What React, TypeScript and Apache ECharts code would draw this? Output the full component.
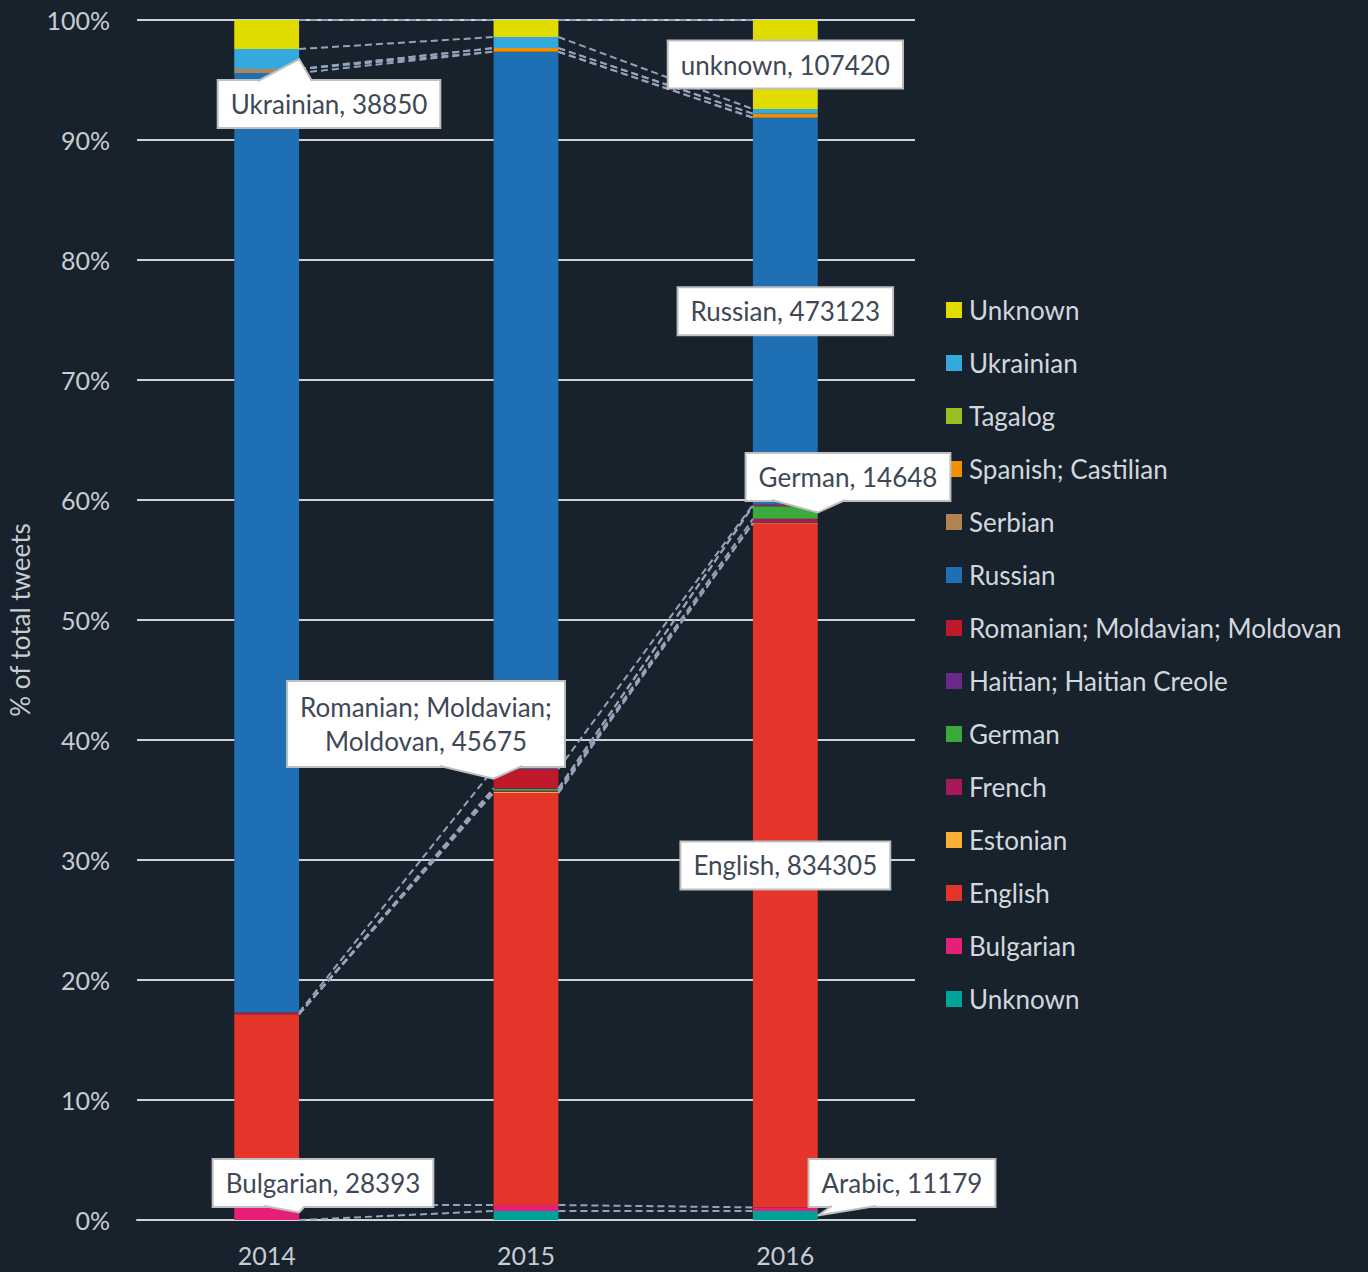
import React, { useEffect, useRef } from "react";
import * as echarts from "echarts";

const years = ["2014", "2015", "2016"];
const yTicks = [0, 10, 20, 30, 40, 50, 60, 70, 80, 90, 100];

// percentage of total tweets, stacked bottom -> top
const unknownBottom = [0, 0.75, 0.75];
const bulgarian = [1.25, 0.5, 0.3];
const english = [15.9, 34.33, 57.0];
const estonian = [0, 0.1, 0.05];
const french = [0, 0.1, 0.33];
const german = [0, 0.15, 1.05];
const haitian = [0, 0.05, 0.02];
const romanian = [0.15, 1.6, 0.1];
const russian = [78.28, 59.78, 32.26];
const serbian = [0.33, 0, 0];
const spanish = [0, 0.3, 0.33];
const tagalog = [0, 0, 0];
const ukrainian = [1.67, 0.92, 0.39];
const unknownTop = [2.42, 1.42, 7.42];

const seriesNames = [
  "Unknown (bottom)",
  "Bulgarian",
  "English",
  "Estonian",
  "French",
  "German",
  "Haitian; Haitian Creole",
  "Romanian; Moldavian; Moldovan",
  "Russian",
  "Serbian",
  "Spanish; Castilian",
  "Tagalog",
  "Ukrainian",
  "Unknown (top)",
];
const seriesValues = [
  unknownBottom, bulgarian, english, estonian, french, german, haitian,
  romanian, russian, serbian, spanish, tagalog, ukrainian, unknownTop,
];
const seriesColors = [
  "#00a39a", "#e61f78", "#e5352a", "#f9ae34", "#a8195a", "#3aaa3a", "#6a2a8a",
  "#c0192a", "#1f6fb5", "#b3844f", "#f28e00", "#96c11f", "#33a9de", "#e0dc00",
];

// callouts: series index, category index, text
const callouts = [
  { s: 12, c: 0, text: "Ukrainian, 38850", box: [329, 104], edge: "top", base: [258, 312], side: 1 },
  { s: 13, c: 2, text: "unknown, 107420", box: null, edge: null, base: null, side: 0 },
  { s: 8, c: 2, text: "Russian, 473123", box: null, edge: null, base: null, side: 0 },
  { s: 5, c: 2, text: "German, 14648", box: [848, 477], edge: "bottom", base: [772, 845], side: 1 },
  { s: 7, c: 1, text: "Romanian; Moldavian;\nMoldovan, 45675", box: [426, 724], edge: "bottom", base: [440, 522], side: -1 },
  { s: 2, c: 2, text: "English, 834305", box: null, edge: null, base: null, side: 0 },
  { s: 1, c: 0, text: "Bulgarian, 28393", box: [323, 1183], edge: "bottom", base: [264, 305], side: 1 },
  { s: 0, c: 2, text: "Arabic, 11179", box: [902, 1183], edge: "bottom", base: [832, 876], side: 1 },
];

const FONT = "Lato, 'Noto Sans', sans-serif";
const BAR_RATIO = 0.25;

function cumAt(k: number, c: number) {
  let t = 0;
  for (let i = 0; i <= k; i++) t += seriesValues[i][c];
  return t;
}

export default function App() {
  const ref = useRef<HTMLDivElement>(null);
  useEffect(() => {
    document.body.style.margin = "0";
    document.body.style.background = "#17222c";
    const chart = echarts.init(ref.current!, null, { renderer: "svg" });

    const barSeries: any[] = seriesNames.map((n, i) => ({
      name: n,
      type: "bar",
      stack: "total",
      barWidth: BAR_RATIO * 100 + "%",
      data: seriesValues[i],
      itemStyle: { color: seriesColors[i] },
      silent: true,
    }));

    const lineSeries = {
      type: "custom",
      name: "seriesLines",
      silent: true,
      z: 3,
      data: [[0, 0], [1, 0]],
      encode: { x: 0, y: 1 },
      renderItem: (params: any, api: any) => {
        const c = api.value(0);
        const hw = (api.size([1, 0])[0] * BAR_RATIO) / 2;
        const children: any[] = [];
        for (let k = 0; k < seriesNames.length; k++) {
          const p1 = api.coord([c, cumAt(k, c)]);
          const p2 = api.coord([c + 1, cumAt(k, c + 1)]);
          children.push({
            type: "line",
            shape: { x1: p1[0] + hw, y1: p1[1], x2: p2[0] - hw, y2: p2[1] },
            style: { stroke: "#94a3ba", lineWidth: 2, lineDash: [7, 4] },
          });
        }
        return { type: "group", children };
      },
    };

    const legendOrder = seriesNames.slice().reverse();

    chart.setOption({
      animation: false,
      backgroundColor: "#17222c",
      textStyle: { fontFamily: FONT },
      grid: { left: 137, right: 453, top: 20, bottom: 52, containLabel: false, outerBoundsMode: "none" },
      legend: {
        data: legendOrder,
        orient: "vertical",
        left: 946,
        top: 297,
        padding: 0,
        itemWidth: 16,
        itemHeight: 16,
        itemGap: 27,
        icon: "rect",
        selectedMode: false,
        formatter: (n: string) => (n.startsWith("Unknown") ? "Unknown" : n),
        textStyle: { color: "#d3d7de", fontSize: 26, fontFamily: FONT, padding: [0, 0, 0, 2] },
      },
      xAxis: {
        type: "category",
        data: years,
        axisTick: { show: false },
        axisLine: { lineStyle: { color: "#d0d3d8", width: 2 } },
        axisLabel: { color: "#c8ccd3", fontSize: 25, margin: 22, fontFamily: FONT },
      },
      yAxis: {
        type: "value",
        min: yTicks[0],
        max: yTicks[yTicks.length - 1],
        interval: 10,
        name: "% of total tweets",
        nameLocation: "middle",
        nameRotate: 90,
        nameGap: 104,
        nameTextStyle: { color: "#c8ccd3", fontSize: 26, fontFamily: FONT },
        axisLine: { show: false },
        axisTick: { show: false },
        axisLabel: { formatter: "{value}%", color: "#c8ccd3", fontSize: 25, margin: 27, fontFamily: FONT },
        splitLine: { lineStyle: { color: "#d0d3d8", width: 2 } },
      },
      series: [...barSeries, lineSeries],
    });

    const px = (c: number, v: number) => chart.convertToPixel({ seriesIndex: 0 }, [c, v]) as number[];
    const band = px(1, 0)[0] - px(0, 0)[0];
    const hw = (band * BAR_RATIO) / 2;
    const graphics: any[] = [];
    callouts.forEach((co, idx) => {
      const top = cumAt(co.s, co.c);
      const bottom = top - seriesValues[co.s][co.c];
      const mid = (top + bottom) / 2;
      const anchor = px(co.c, mid);
      const lines = co.text.split("\n").length;
      const lh = lines > 1 ? 34 : 30;
      const boxH = lines * lh + 16;
      const cx = co.box ? co.box[0] : anchor[0];
      const cy = co.box ? co.box[1] : anchor[1];
      graphics.push({
        type: "text",
        id: "co" + idx,
        x: cx,
        y: cy,
        z: 100,
        style: {
          text: co.text,
          fontSize: 26,
          fontFamily: FONT,
          fill: "#3e4856",
          align: "center",
          verticalAlign: "middle",
          lineHeight: lh,
          backgroundColor: "#ffffff",
          borderColor: "#bfbfbf",
          borderWidth: 2,
          padding: [8, 12],
        },
      });
      if (co.edge && co.base) {
        const vx = anchor[0] + co.side * hw;
        const vy = anchor[1];
        const inward = co.edge === "top" ? 1 : -1;
        const ey = co.edge === "top" ? cy - boxH / 2 : cy + boxH / 2;
        graphics.push({
          type: "polygon",
          z: 101,
          shape: {
            points: [
              [co.base[0], ey + inward * 4],
              [co.base[0], ey],
              [vx, vy],
              [co.base[1], ey],
              [co.base[1], ey + inward * 4],
            ],
          },
          style: { fill: "#ffffff", stroke: null },
        });
        graphics.push({
          type: "polyline",
          z: 102,
          shape: { points: [[co.base[0], ey], [vx, vy], [co.base[1], ey]] },
          style: { stroke: "#bfbfbf", lineWidth: 2, fill: null },
        });
      }
    });
    chart.setOption({ graphic: graphics });

    return () => chart.dispose();
  }, []);
  return <div ref={ref} style={{ width: 1368, height: 1272 }} />;
}
